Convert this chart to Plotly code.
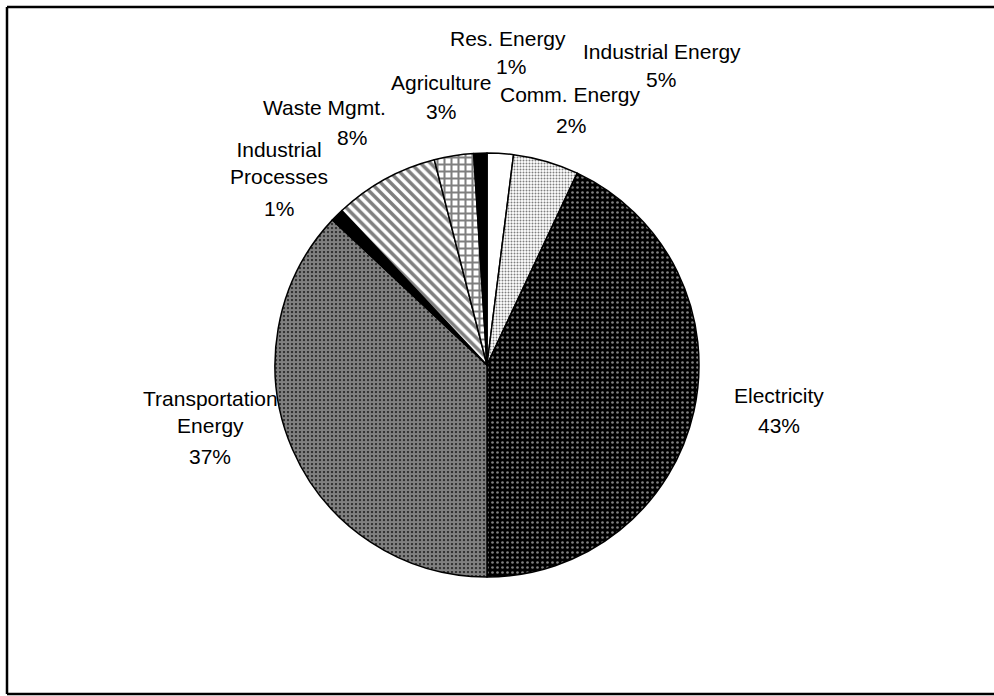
import plotly.graph_objects as go

# Data (clockwise from 12 o'clock)
labels = ["Comm. Energy", "Industrial Energy", "Electricity", "Transportation Energy",
          "Industrial Processes", "Waste Mgmt.", "Agriculture", "Res. Energy"]
values = [2, 5, 43, 37, 1, 8, 3, 1]
display_labels = ["Comm. Energy", "Industrial Energy", "Electricity", "Transportation<br>Energy",
                  "Industrial<br>Processes", "Waste Mgmt.", "Agriculture", "Res. Energy"]

# Styles per slice
slice_colors = ["white", "white", "black", "black", "black", "white", "white", "black"]
pat_shapes = ["", ".", ".", ".", "", "\\", "+", ""]
pat_fg = ["black", "black", "white", "white", "black", "black", "black", "black"]
pat_size = [6, 3, 5, 4, 6, 7, 7, 6]
pat_solid = [0.3, 0.35, 0.22, 0.8, 0.3, 0.5, 0.5, 0.3]

# Label positions in pixels (layout constants): name block centre, percent line centre
name_px = [(570, 95), (662, 51), (779, 395), (210, 412),
           (279, 163), (324, 108), (441, 83), (508, 39)]
pct_px = [(571, 126), (661, 79), (779, 425), (210, 456),
          (279, 208), (352, 137), (441, 111), (511, 67)]

W, H = 994, 696
total = sum(values)
FONT = dict(family="Liberation Sans, Arial, sans-serif", size=21, color="black")

fig = go.Figure(go.Pie(
    labels=labels, values=values, sort=False, direction="clockwise", rotation=0,
    textinfo="none", hoverinfo="label+percent",
    marker=dict(colors=slice_colors,
                line=dict(color="black", width=1.5),
                pattern=dict(shape=pat_shapes, fgcolor=pat_fg, size=pat_size,
                             solidity=pat_solid, fillmode="overlay")),
    domain=dict(x=[275 / W, 699 / W], y=[1 - 577 / H, 1 - 153 / H]),
    showlegend=False,
))

for lab, v, (nx, ny), (qx, qy) in zip(display_labels, values, name_px, pct_px):
    pct = round(v / total * 100)
    fig.add_annotation(x=nx / W, y=1 - ny / H, xref="paper", yref="paper",
                       text=lab, showarrow=False, xanchor="center", yanchor="middle",
                       align="center", font=FONT)
    fig.add_annotation(x=qx / W, y=1 - qy / H, xref="paper", yref="paper",
                       text=f"{pct}%", showarrow=False, xanchor="center", yanchor="middle",
                       align="center", font=FONT)

# Frame (left, top, bottom edges; right edge lies outside the picture)
for x0, y0, x1, y1 in [(7, 7, 7, 694), (7, 7, W, 7), (7, 694, W, 694)]:
    fig.add_shape(type="line", xref="paper", yref="paper",
                  x0=x0 / W, y0=1 - y0 / H, x1=x1 / W, y1=1 - y1 / H,
                  line=dict(color="black", width=2.5))

fig.update_layout(width=W, height=H, margin=dict(l=0, r=0, t=0, b=0),
                  paper_bgcolor="white", plot_bgcolor="white")

fig.write_html("out.html", config={"displayModeBar": False},
               post_script="document.body.style.margin='0';document.body.style.overflow='hidden';")
